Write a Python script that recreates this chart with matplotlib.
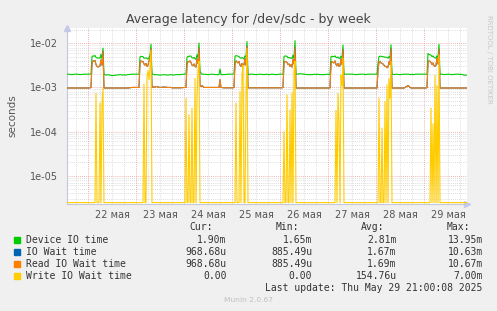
import numpy as np
import matplotlib
matplotlib.use('Agg')
import matplotlib.pyplot as plt
from matplotlib.ticker import FixedLocator, FixedFormatter, NullLocator

nan = float('nan')

# ---------------- data (values in milliseconds) ----------------
# common hour-of-day sampling grid; rows = days May 21 .. May 29
hours = [0, 0.5, 1, 1.5, 2, 2.5, 3, 3.5, 4, 4.5, 5, 5.5, 6, 6.5, 7, 7.5, 8, 8.5,
         9, 10, 12, 14, 16, 17.5, 18, 18.5, 20, 22]
day_labels = ['22 мая', '23 мая', '24 мая', '25 мая', '26 мая', '27 мая', '28 мая', '29 мая']

device_ms = [
    [nan]*20 + [2.0, 2.0, 1.95, 2.0, 2.0, 2.0, 1.95, 2.0],                                  # 21
    [2.0, 2.0, 2.0, 2.05, 5.0, 5.2, 5.1, 5.3, 4.8, 4.7, 4.6, 4.7, 4.6, 5.6, 4.5, 7.8, 2.0, 1.95,
     1.9, 1.95, 1.85, 1.9, 1.95, 1.9, 1.95, 1.9, 1.95, 2.0],                               # 22
    [2.0, 2.0, 2.0, 2.0, 4.9, 5.1, 5.0, 5.0, 4.6, 4.6, 4.7, 4.5, 4.4, 4.8, 5.2, 9.5, 2.0, 2.0,
     1.95, 1.95, 1.9, 1.95, 1.9, 1.95, 1.95, 1.9, 1.95, 1.95],                             # 23
    [2.0, 2.0, 2.0, 4.8, 5.1, 5.0, 5.2, 5.1, 4.7, 4.6, 4.8, 4.5, 4.3, 5.5, 4.8, 10.2, 2.3, 2.1,
     2.0, 2.0, 1.95, 2.0, 1.95, 1.95, 2.6, 1.95, 1.95, 2.0],                               # 24
    [2.0, 2.0, 2.05, 5.0, 5.3, 5.2, 5.1, 5.0, 4.7, 4.6, 4.8, 4.6, 4.4, 5.2, 4.9, 11.0, 2.0, 1.95,
     2.0, 2.0, 1.95, 2.0, 1.95, 2.0, 1.95, 1.95, 2.0, 1.95],                               # 25
    [2.0, 2.0, 2.0, 2.0, 5.0, 5.2, 5.1, 5.1, 4.7, 4.8, 4.6, 4.7, 4.5, 5.4, 4.6, 11.5, 2.0, 2.0,
     2.0, 2.05, 2.0, 1.95, 1.95, 2.0, 1.95, 2.0, 1.95, 1.95],                              # 26
    [2.0, 1.95, 2.0, 5.0, 5.1, 5.0, 5.0, 5.2, 4.8, 4.7, 4.9, 4.6, 4.5, 5.1, 4.7, 9.2, 2.0, 2.0,
     2.0, 2.0, 2.0, 1.95, 2.0, 2.0, 2.0, 1.95, 2.0, 2.0],                                  # 27
    [2.0, 2.0, 3.5, 5.0, 5.1, 5.1, 5.0, 5.0, 4.9, 4.9, 4.8, 4.8, 4.6, 5.0, 4.7, 9.3, 2.0, 2.0,
     1.95, 2.0, 1.95, 2.0, 2.0, 1.95, 2.0, 1.95, 2.0, 2.0],                                # 28
    [2.0, 2.0, 2.0, 2.0, 5.9, 5.6, 5.5, 5.4, 5.0, 5.2, 4.8, 4.7, 4.6, 5.2, 4.8, 9.5, 2.0, 2.0,
     2.0, 1.95, 2.0, 1.95, 2.0, 2.0, 1.95, 2.0, 1.9, 1.9],                                 # 29
]

read_ms = [
    [nan]*20 + [0.97, 0.97, 0.97, 0.97, 0.97, 0.97, 0.97, 0.97],                           # 21
    [0.97, 0.97, 0.98, 1.0, 3.6, 4.0, 3.9, 4.1, 3.3, 3.0, 2.9, 3.0, 3.1, 4.2, 3.2, 6.5, 0.97, 0.97,
     0.97, 0.97, 0.97, 0.97, 0.97, 0.97, 0.97, 0.97, 0.97, 1.0],                           # 22
    [1.0, 1.0, 1.0, 1.0, 3.6, 4.0, 3.8, 3.9, 3.4, 3.2, 3.5, 3.0, 3.2, 4.0, 4.6, 7.5, 1.0, 1.05,
     1.0, 1.05, 1.0, 1.02, 1.0, 1.0, 0.98, 0.98, 0.98, 0.98],                              # 23
    [1.0, 1.0, 1.0, 3.4, 3.9, 3.8, 4.0, 3.7, 3.2, 3.1, 3.4, 3.0, 2.9, 4.4, 3.5, 7.8, 1.1, 1.05,
     1.1, 1.0, 1.0, 1.0, 1.0, 1.0, 1.5, 1.0, 0.98, 0.98],                                  # 24
    [0.98, 0.98, 1.0, 3.5, 4.0, 3.8, 3.6, 3.9, 3.2, 3.0, 3.5, 2.9, 3.3, 4.5, 3.2, 8.5, 0.98, 0.98,
     0.98, 0.98, 0.98, 0.98, 0.98, 0.98, 0.98, 0.98, 0.98, 0.98],                          # 25
    [0.98, 0.98, 0.98, 1.0, 3.7, 3.9, 3.8, 3.7, 3.3, 3.4, 3.0, 3.3, 2.9, 4.3, 3.4, 8.0, 0.97, 0.97,
     0.97, 0.97, 0.97, 0.97, 0.97, 0.97, 0.97, 0.97, 0.97, 0.97],                          # 26
    [0.97, 0.97, 0.98, 3.5, 3.9, 3.7, 3.6, 4.0, 3.3, 3.1, 3.5, 3.0, 3.1, 4.4, 3.3, 7.2, 0.97, 0.97,
     0.97, 0.97, 0.97, 0.97, 0.97, 0.97, 0.97, 0.97, 0.97, 0.97],                          # 27
    [0.97, 0.97, 2.5, 3.8, 3.9, 3.6, 3.5, 3.4, 3.2, 3.0, 3.0, 2.8, 2.9, 3.8, 3.3, 7.5, 0.97, 0.97,
     0.97, 0.97, 0.97, 0.97, 1.1, 0.97, 0.97, 0.97, 0.97, 0.97],                           # 28
    [0.97, 0.97, 0.97, 1.0, 3.8, 4.0, 3.9, 3.7, 3.3, 3.6, 3.1, 3.0, 3.2, 4.6, 3.4, 7.3, 0.97, 0.97,
     0.97, 0.97, 0.97, 0.97, 0.97, 0.97, 0.97, 0.97, 0.97, 0.97],                          # 29
]

# IO wait time coincides with the read wait time (hidden under it)
io_wait_ms = [row[:] for row in read_ms]

write_ms = [
    [nan]*20 + [0, 0, 0, 0, 0, 0, 0, 0],                                                    # 21
    [0, 0, 0, 0, 0, 0, 0, 0, 0.74, 0, 0, 0, 0.44, 0, 0.40, 0.97, 0, 0, 0, 0, 0, 0, 0, 0, 0, 0, 0, 0],
    [0, 0, 0, 0, 0, 0, 0, 0, 1.2, 0, 0, 1.8, 2.4, 1.5, 2.8, 7.0, 0, 0, 0, 0, 0, 0, 0, 0, 0, 0, 0, 0],
    [0, 0, 0.57, 0, 0, 0.24, 0, 0, 0.34, 0, 0, 1.6, 0, 0.57, 2.5, 3.9, 0, 0, 0, 0, 0, 0, 0, 0, 0, 0, 0, 0],
    [0, 0, 0, 0, 0.44, 0, 0, 0, 0.8, 0, 1.9, 3.2, 0, 0, 0.67, 7.7, 0, 0, 0, 0, 0, 0, 0, 0, 0, 0, 0, 0],
    [0, 0, 0, 0, 0.1, 0, 0, 0.68, 0, 0, 0.31, 0, 0.75, 0, 2.3, 3.9, 0, 0, 0, 0, 0, 0, 0, 0, 0, 0, 0, 0],
    [0, 0, 0, 0, 0, 0, 0, 0, 0.3, 0, 0.73, 0.17, 0, 1.9, 1.1, 4.6, 0, 0, 0, 0, 0, 0, 0, 0, 0, 0, 0, 0],
    [0, 0, 0, 0.57, 0, 0, 0.12, 0, 0, 0.48, 0, 1.15, 0, 1.6, 0.57, 3.9, 0, 0, 0, 0, 0, 0, 0, 0, 0, 0, 0, 0],
    [0, 0, 0, 0, 0, 0, 0, 0.34, 0, 0.15, 0, 1.9, 0, 1.1, 0, 5.4, 0, 0, 0, 0, 0, 0, 0, 0, 0, 0, 0, 0],
]

legend_names = ['Device IO time', 'IO Wait time', 'Read IO Wait time', 'Write IO Wait time']
legend_colors = ['#00CC00', '#0066B3', '#FF8000', '#FFCC00']
stat_cur = ['1.90m', '968.68u', '968.68u', '0.00']
stat_min = ['1.65m', '885.49u', '885.49u', '0.00']
stat_avg = ['2.81m', '1.67m', '1.69m', '154.76u']
stat_max = ['13.95m', '10.63m', '10.67m', '7.00m']

# ---------------- figure ----------------
W, H = 497, 311
fig = plt.figure(figsize=(W / 100, H / 100), dpi=100, facecolor='#F0F0F0')

ax_l, ax_r, ax_t, ax_b = 66.5, 467.0, 27.7, 204.0
ax = fig.add_axes([ax_l / W, 1 - ax_b / H, (ax_r - ax_l) / W, (ax_b - ax_t) / H])
ax.set_facecolor('white')

t_start, t_end = -10.75, 189.5
y_lo, y_hi = 2.28e-6, 2.26e-2
ax.set_yscale('log')
ax.set_xlim(t_start, t_end)
ax.set_ylim(y_lo, y_hi)

# grid
dot = (0, (1, 1.5))
for h in np.arange(-6, 190, 6):
    if h % 24 == 0:
        ax.axvline(h, color='#E89A9A', lw=0.6, ls=dot, zorder=1)
    else:
        ax.axvline(h, color='#D2D2D2', lw=0.6, ls=dot, zorder=0.5)
for e in range(-6, -1):
    for m in range(1, 10):
        v = m * 10.0 ** e
        if v < y_lo or v > y_hi:
            continue
        if m == 1:
            ax.axhline(v, color='#E89A9A', lw=0.6, ls=dot, zorder=1)
        else:
            ax.axhline(v, color='#D2D2D2', lw=0.6, ls=dot, zorder=0.5)

t = np.concatenate([24 * (d - 1) + np.array(hours, dtype=float) for d in range(len(device_ms))])
dev = np.array(device_ms, dtype=float).ravel() * 1e-3
iow = np.array(io_wait_ms, dtype=float).ravel() * 1e-3
rd = np.array(read_ms, dtype=float).ravel() * 1e-3
wr = np.array(write_ms, dtype=float).ravel() * 1e-3
floor = 2.45e-6
wr_plot = np.where(np.isnan(wr), np.nan, np.where(wr > 0, wr, floor))

lw = 0.8
ax.plot(t, dev, color=legend_colors[0], lw=lw, zorder=3)
ax.plot(t, iow, color=legend_colors[1], lw=lw, zorder=3)
ax.plot(t, rd, color=legend_colors[2], lw=lw, zorder=3)
ax.plot(t, wr_plot, color=legend_colors[3], lw=lw, zorder=3)

# ticks
ax.xaxis.set_major_locator(FixedLocator([12 + 24 * i for i in range(len(day_labels))]))
ax.xaxis.set_major_formatter(FixedFormatter(day_labels))
ax.xaxis.set_minor_locator(NullLocator())
yt = [1e-5, 1e-4, 1e-3, 1e-2]
ax.yaxis.set_major_locator(FixedLocator(yt))
ax.yaxis.set_major_formatter(FixedFormatter(['1e-05', '1e-04', '1e-03', '1e-02']))
ax.yaxis.set_minor_locator(NullLocator())
ax.tick_params(axis='both', length=0, labelsize=7, colors='#555555')
ax.tick_params(axis='x', pad=4)
ax.tick_params(axis='y', pad=6)

for s in ['top', 'right']:
    ax.spines[s].set_visible(False)
for s in ['left', 'bottom']:
    ax.spines[s].set_color('#C4C8DC')
    ax.spines[s].set_linewidth(0.8)
# axis arrows
ax.plot([0], [1.0], marker='^', ms=4, color='#C4C8EC', transform=ax.transAxes, clip_on=False)
ax.plot([1.0], [0], marker='>', ms=4, color='#C4C8EC', transform=ax.transAxes, clip_on=False)

def fx(x):
    return x / W

def fy(y):
    return 1 - y / H

fig.text(fx(248), fy(19), 'Average latency for /dev/sdc - by week', ha='center', va='center',
         fontsize=9, color='#444444')
fig.text(fx(12), fy(116), 'seconds', rotation=90, ha='center', va='center', fontsize=7.5,
         color='#555555')
fig.text(fx(489), fy(15), 'RRDTOOL / TOBI OETIKER', rotation=270, ha='center', va='top',
         fontsize=5, color='#C8C8C8')

mono = 'DejaVu Sans Mono'
fs = 7
hdr_y = 227.3
for txt, xr in zip(['Cur:', 'Min:', 'Avg:', 'Max:'], [213.3, 299.3, 384.0, 470.0]):
    fig.text(fx(xr), fy(hdr_y), txt, ha='right', va='center', family=mono, fontsize=fs, color='#333333')

row_y = [240.0, 251.8, 263.7, 275.7]
for i in range(4):
    fig.patches.append(plt.Rectangle((fx(14), fy(row_y[i] + 3)), 6 / W, 6 / H,
                                     transform=fig.transFigure, color=legend_colors[i], figure=fig))
    fig.text(fx(26), fy(row_y[i]), legend_names[i], ha='left', va='center', family=mono,
             fontsize=fs, color='#333333')
    for vals, xr in zip([stat_cur, stat_min, stat_avg, stat_max], [226.7, 312.3, 396.7, 482.7]):
        fig.text(fx(xr), fy(row_y[i]), vals[i], ha='right', va='center', family=mono,
                 fontsize=fs, color='#333333')

fig.text(fx(482.7), fy(287.7), 'Last update: Thu May 29 21:00:08 2025', ha='right', va='center',
         family=mono, fontsize=fs, color='#333333')
fig.text(fx(248), fy(300), 'Munin 2.0.67', ha='center', va='center', fontsize=5.4, color='#C0C0C0')

fig.savefig('out.png', dpi=100, facecolor=fig.get_facecolor())
